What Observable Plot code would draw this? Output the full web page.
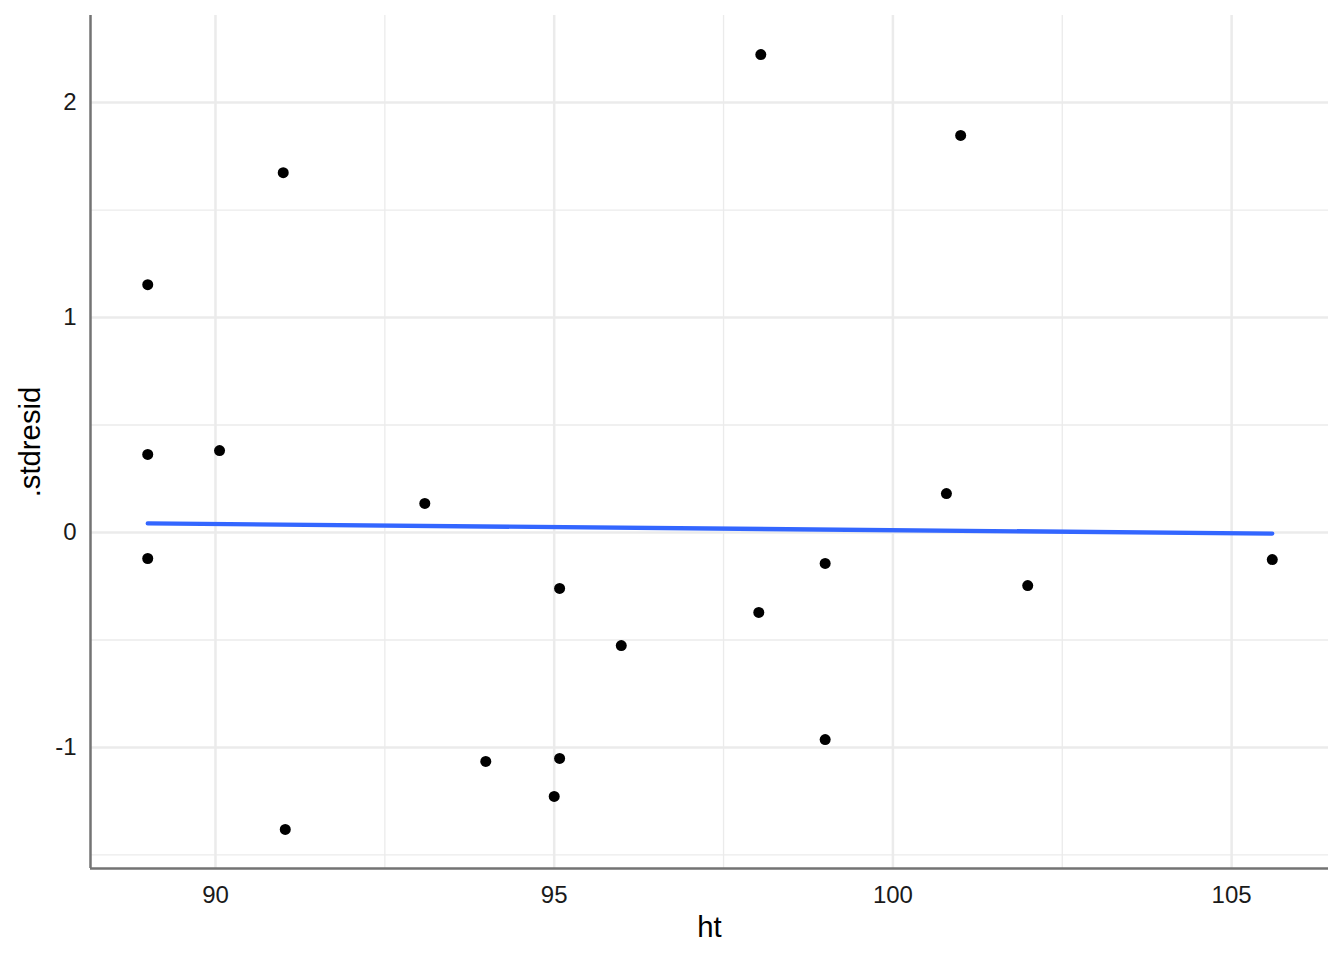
<!DOCTYPE html>
<html>
<head>
<meta charset="utf-8">
<script src="https://cdn.jsdelivr.net/npm/d3@7"></script>
<script src="https://cdn.jsdelivr.net/npm/@observablehq/plot@0.6"></script>
<style>
  html, body { margin: 0; padding: 0; background: #fff; }
  #chart svg { display: block; font-family: "Liberation Sans", Arial, sans-serif; }
</style>
</head>
<body>
<div id="chart"></div>
<script>
const ht = [89.0, 89.0, 89.0, 90.06, 91.0, 91.03, 93.09, 93.99, 95.0, 95.08, 95.08, 95.99, 98.05, 98.02, 99.0, 99.0, 100.79, 101.0, 101.99, 105.6];
const stdresid = [1.153, 0.363, -0.121, 0.381, 1.674, -1.381, 0.135, -1.065, -1.228, -0.260, -1.051, -0.526, 2.223, -0.372, -0.144, -0.963, 0.181, 1.847, -0.247, -0.126];
const fitX = [89.0, 105.6];
const fitY = [0.042, -0.005];
const xMajor = [90, 95, 100, 105];
const xMinor = [92.5, 97.5, 102.5];
const yMajor = [-1, 0, 1, 2];
const yMinor = [-1.5, -0.5, 0.5, 1.5];
const xDomain = [88.155, 106.43];
const yDomain = [-1.563, 2.405];

const points = ht.map((h, i) => ({ht: h, r: stdresid[i]}));
const fit = fitX.map((h, i) => ({ht: h, r: fitY[i]}));
const fmt = d => String(d);

const chart = Plot.plot({
  width: 1344,
  height: 960,
  marginLeft: 90,
  marginRight: 16,
  marginTop: 15,
  marginBottom: 92,
  style: {fontFamily: "'Liberation Sans', Arial, sans-serif", background: "#fff"},
  x: {domain: xDomain},
  y: {domain: yDomain},
  marks: [
    Plot.ruleX(xMinor, {stroke: "#ebebeb", strokeWidth: 1.3}),
    Plot.ruleY(yMinor, {stroke: "#ebebeb", strokeWidth: 1.3}),
    Plot.ruleX(xMajor, {stroke: "#ebebeb", strokeWidth: 2.5}),
    Plot.ruleY(yMajor, {stroke: "#ebebeb", strokeWidth: 2.5}),
    Plot.axisX(xMajor, {tickSize: 0, tickPadding: 17, fontSize: 24, fill: "#1a1a1a", tickFormat: fmt, label: null}),
    Plot.axisY(yMajor, {tickSize: 0, tickPadding: 14, fontSize: 24, fill: "#1a1a1a", tickFormat: fmt, label: null}),
    Plot.text(["ht"], {frameAnchor: "bottom", textAnchor: "middle", lineAnchor: "middle", dy: 59, fontSize: 29.3, fill: "#000"}),
    Plot.text([".stdresid"], {frameAnchor: "left", textAnchor: "middle", lineAnchor: "middle", dx: -59.5, rotate: -90, fontSize: 29.3, fill: "#000"}),
    Plot.ruleX([xDomain[0]], {stroke: "#737373", strokeWidth: 2.5}),
    Plot.ruleY([yDomain[0]], {stroke: "#737373", strokeWidth: 2.5}),
    Plot.dot(points, {x: "ht", y: "r", r: 5.5, fill: "#000", stroke: "none"}),
    Plot.line(fit, {x: "ht", y: "r", stroke: "#3366FF", strokeWidth: 4.3})
  ]
});
document.getElementById("chart").appendChild(chart);
</script>
</body>
</html>
